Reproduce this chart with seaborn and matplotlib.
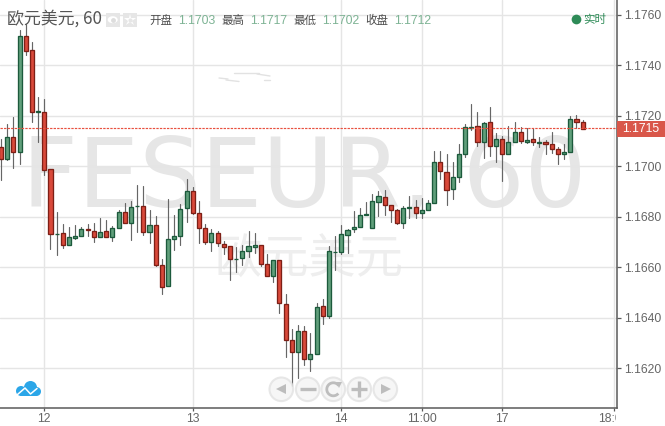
import matplotlib
matplotlib.use('Agg')
import matplotlib.pyplot as plt
from matplotlib.patches import Arc, Circle, Ellipse, Rectangle
from matplotlib.transforms import Bbox
import pandas as pd
import seaborn as sns

# bar number, counted from the first bar of the 12th
BAR_START = -7

OPENS = [1.17076, 1.17028, 1.17115, 1.17056, 1.17516, 1.17460, 1.17214, 1.17214,
         1.16988, 1.16730, 1.16735, 1.16687, 1.16715, 1.16723, 1.16751, 1.16743,
         1.16719, 1.16743, 1.16719, 1.16755, 1.16818, 1.16774, 1.16841, 1.16842,
         1.16739, 1.16767, 1.16608, 1.16525, 1.16711, 1.16723, 1.16834, 1.16901,
         1.16814, 1.16755, 1.16699, 1.16735, 1.16691, 1.16683, 1.16632, 1.16636,
         1.16663, 1.16679, 1.16687, 1.16612, 1.16564, 1.16628, 1.16453, 1.16311,
         1.16263, 1.16346, 1.16235, 1.16255, 1.16445, 1.16406, 1.16659, 1.16660,
         1.16727, 1.16751, 1.16759, 1.16806, 1.16755, 1.16858, 1.16877, 1.16846,
         1.16826, 1.16774, 1.16834, 1.16838, 1.16814, 1.16826, 1.16854, 1.17016,
         1.16977, 1.16909, 1.16957, 1.17048, 1.17151, 1.17159, 1.17095, 1.17175,
         1.17080, 1.17107, 1.17048, 1.17095, 1.17135, 1.17095, 1.17107, 1.17092,
         1.17095, 1.17088, 1.17068, 1.17048, 1.17056, 1.17187, 1.17175]
HIGHS = [1.17109, 1.17168, 1.17197, 1.17541, 1.17564, 1.17492, 1.17274, 1.17267,
         1.16988, 1.16819, 1.16772, 1.16759, 1.16768, 1.16759, 1.16772, 1.16776,
         1.16795, 1.16788, 1.16764, 1.16827, 1.16854, 1.16863, 1.16926, 1.16922,
         1.16827, 1.16803, 1.16632, 1.16871, 1.16807, 1.16851, 1.16950, 1.16919,
         1.16863, 1.16772, 1.16752, 1.16744, 1.16703, 1.16684, 1.16681, 1.16687,
         1.16744, 1.16735, 1.16687, 1.16652, 1.16628, 1.16628, 1.16493, 1.16356,
         1.16371, 1.16367, 1.16340, 1.16457, 1.16473, 1.16683, 1.16723, 1.16767,
         1.16751, 1.16823, 1.16835, 1.16859, 1.16891, 1.16901, 1.16905, 1.16846,
         1.16830, 1.16842, 1.16881, 1.16866, 1.16875, 1.16866, 1.17061, 1.17061,
         1.17049, 1.17017, 1.17088, 1.17167, 1.17247, 1.17216, 1.17175, 1.17235,
         1.17132, 1.17119, 1.17160, 1.17176, 1.17156, 1.17152, 1.17151, 1.17117,
         1.17103, 1.17136, 1.17076, 1.17088, 1.17199, 1.17204, 1.17184]
LOWS = [1.16946, 1.17023, 1.16995, 1.17011, 1.17440, 1.17177, 1.17098, 1.16967,
        1.16673, 1.16649, 1.16678, 1.16687, 1.16711, 1.16723, 1.16723, 1.16699,
        1.16719, 1.16719, 1.16705, 1.16755, 1.16774, 1.16709, 1.16739, 1.16727,
        1.16695, 1.16603, 1.16495, 1.16525, 1.16667, 1.16687, 1.16781, 1.16811,
        1.16695, 1.16691, 1.16663, 1.16684, 1.16654, 1.16549, 1.16580, 1.16608,
        1.16640, 1.16656, 1.16604, 1.16564, 1.16543, 1.16419, 1.16245, 1.16129,
        1.16160, 1.16212, 1.16188, 1.16255, 1.16374, 1.16398, 1.16588, 1.16652,
        1.16656, 1.16739, 1.16759, 1.16806, 1.16755, 1.16802, 1.16807, 1.16780,
        1.16770, 1.16755, 1.16794, 1.16794, 1.16794, 1.16826, 1.16854, 1.16949,
        1.16848, 1.16872, 1.16937, 1.17038, 1.17143, 1.17080, 1.17031, 1.17042,
        1.17017, 1.16943, 1.17048, 1.17095, 1.17092, 1.17092, 1.17084, 1.17078,
        1.17049, 1.17054, 1.17011, 1.17027, 1.17056, 1.17151, 1.17147]
CLOSES = [1.17028, 1.17115, 1.17056, 1.17516, 1.17456, 1.17214, 1.17218, 1.16985,
          1.16731, 1.16732, 1.16687, 1.16719, 1.16723, 1.16751, 1.16747, 1.16719,
          1.16739, 1.16719, 1.16755, 1.16818, 1.16774, 1.16838, 1.16843, 1.16739,
          1.16767, 1.16608, 1.16521, 1.16711, 1.16723, 1.16830, 1.16901, 1.16814,
          1.16755, 1.16699, 1.16735, 1.16695, 1.16679, 1.16632, 1.16634, 1.16663,
          1.16683, 1.16687, 1.16612, 1.16564, 1.16628, 1.16457, 1.16311, 1.16263,
          1.16346, 1.16235, 1.16255, 1.16442, 1.16406, 1.16663, 1.16661, 1.16731,
          1.16747, 1.16759, 1.16806, 1.16810, 1.16862, 1.16881, 1.16846, 1.16826,
          1.16774, 1.16834, 1.16838, 1.16814, 1.16826, 1.16854, 1.17016, 1.16981,
          1.16905, 1.16957, 1.17048, 1.17155, 1.17155, 1.17095, 1.17171, 1.17080,
          1.17107, 1.17048, 1.17095, 1.17135, 1.17099, 1.17103, 1.17095, 1.17095,
          1.17088, 1.17068, 1.17048, 1.17056, 1.17187, 1.17175, 1.17147]

PRICE_TICKS = [1.1620, 1.1640, 1.1660, 1.1680, 1.1700, 1.1720, 1.1740, 1.1760]
TIME_TICKS = [0, 24, 48, 61, 74, 92]
TIME_LABELS = ['12', '13', '14', '11:00', '17', '18:00']
LAST_PRICE = 1.1715

GREEN = '#609f7b'
GREEN_EDGE = '#1c5a3c'
RED = '#d9493a'
RED_EDGE = '#7d1f16'
GRID = '#e5e5e5'
AXIS = '#5a5a5a'
TEXT = '#666666'
LATIN = ['Liberation Sans', 'Noto Sans CJK SC', 'DejaVu Sans']
CJK = ['Noto Sans CJK SC', 'DejaVu Sans']

sns.set_theme(style='white')
plt.rcParams['font.family'] = LATIN

W, H = 665, 426
fig = plt.figure(figsize=(W / 100, H / 100), dpi=100, facecolor='white')


def pixel_axes(zorder):
    a = fig.add_axes([0, 0, 1, 1], zorder=zorder)
    a.set_xlim(0, W)
    a.set_ylim(H, 0)
    a.axis('off')
    return a


back = pixel_axes(0)
ax = fig.add_axes([0, (H - 408.3) / H, 616.7 / W, 408.3 / H], zorder=1)
ax.patch.set_alpha(0)
front = pixel_axes(2)

# big watermarks behind the chart
back.text(22.5, 207, 'FESEUR, 60', fontsize=70, color='#e6e6e6', family='DejaVu Sans',
          va='baseline', ha='left')
back.text(214, 261, '欧元美元', fontsize=34, color='#eeeeee', family=CJK,
          va='center', ha='left', fontweight='light')
# faint leftovers of the page behind the chart
for xs, ys in [([234, 259], [72.5, 72.5]), ([257, 270], [74, 76]), ([264, 270], [79.5, 79.5]),
               ([219, 228], [78, 79]), ([226, 239], [80, 81.5])]:
    back.plot(xs, ys, color='#e2e2e2', lw=1)

bars = pd.DataFrame({'bar': range(BAR_START, BAR_START + len(OPENS)),
                     'open': OPENS, 'high': HIGHS, 'low': LOWS, 'close': CLOSES})
bars['bottom'] = bars[['open', 'close']].min(axis=1)
bars['height'] = (bars['close'] - bars['open']).abs()
bars['up'] = bars['close'] > bars['open']

wicks = bars.melt(id_vars='bar', value_vars=['low', 'high'], value_name='price')
sns.lineplot(data=wicks, x='bar', y='price', units='bar', estimator=None, ax=ax,
             color='#666666', linewidth=0.85, legend=False, zorder=3)

for is_up, fill, edge in [(True, GREEN, GREEN_EDGE), (False, RED, RED_EDGE)]:
    part = bars[bars['up'] == is_up]
    sns.barplot(data=part, x='bar', y='height', bottom=part['bottom'].values, ax=ax,
                native_scale=True, width=0.66, color=fill, saturation=1,
                errorbar=None, edgecolor=edge, linewidth=0.95, zorder=4)

ax.axhline(LAST_PRICE, color='#e8503f', linewidth=0.85, linestyle=(0, (2, 1)), zorder=5)

ax.set_xlim(-7.16, 92.5)
ax.set_ylim(1.16041, 1.17659)
ax.set_xlabel('')
ax.set_ylabel('')
ax.set_xticks(TIME_TICKS)
ax.set_xticklabels(TIME_LABELS)
ax.set_yticks(PRICE_TICKS)
ax.set_yticklabels(['%.4f' % p for p in PRICE_TICKS])
ax.yaxis.tick_right()
ax.grid(True, color=GRID, linewidth=1.0)
ax.set_axisbelow(True)
ax.tick_params(axis='y', length=3, width=0.9, color=AXIS, labelcolor=TEXT,
               labelsize=8.7, pad=2, right=True)
ax.tick_params(axis='x', length=2, width=0.9, color=AXIS, labelcolor=TEXT,
               labelsize=8.7, pad=1.2, bottom=True)
for side in ['top', 'left']:
    ax.spines[side].set_visible(False)
for side in ['right', 'bottom']:
    ax.spines[side].set_color(AXIS)
    ax.spines[side].set_linewidth(1.1)

# the 18:00 label is cut off by the price axis
last_label = ax.get_xticklabels()[-1]
last_label.set_clip_on(True)
last_label.set_clip_box(Bbox([[0, 0], [615.5, H]]))

# header
front.text(7, 19, '欧元美元, 60', fontsize=12.2, color='#555555', family=CJK, va='center')
for left in [106, 123]:
    front.add_patch(Rectangle((left, 13), 13.5, 13.5, color='#e6e6e6', lw=0))
front.add_patch(Ellipse((112.7, 19.7), 10, 7, color='white', lw=0))
front.plot(112.7, 19.7, marker='o', ms=3.5, color='#dddddd', mew=0)
front.plot(129.7, 19.7, marker='*', ms=9, color='white', mew=0)
front.plot(129.7, 19.7, marker='o', ms=3, color='#e6e6e6', mew=0)

label_x = [149, 221, 293, 365]
label_names = ['开盘', '最高', '最低', '收盘']
label_values = ['1.1703', '1.1717', '1.1702', '1.1712']
for x, name, value in zip(label_x, label_names, label_values):
    front.text(x, 20.5, name, fontsize=8.3, color='#4d4d4d', family=CJK, va='center')
    front.text(x + 29, 20.5, value, fontsize=8.8, color='#7db394', family=LATIN, va='center')

front.plot(576, 19, marker='o', ms=7, color='#2e8b57', mew=0)
front.text(583, 19.5, '实时', fontsize=8.3, color='#2e8b57', family=CJK, va='center')

# last price tag
front.add_patch(Rectangle((617, 121), 48, 16, color='#d9574a', lw=0))
front.text(641, 129, '%.4f' % LAST_PRICE, fontsize=8.8, color='white', ha='center',
           va='center', family=LATIN)

# logo
LOGO = '#2ba6e8'
front.add_patch(Circle((30.5, 387.5), 6.5, color=LOGO, lw=0))
front.add_patch(Circle((21, 391), 5, color=LOGO, lw=0))
front.add_patch(Circle((36.5, 391.5), 4.5, color=LOGO, lw=0))
front.add_patch(Rectangle((21, 389), 16, 7, color=LOGO, lw=0))
front.plot([17.5, 25, 30.5, 37], [394.5, 388, 394, 388.5], color='white', lw=1.1)

# navigation buttons
NAV = '#bdbdbd'
for cx in [281.3, 307.7, 333.3, 359.3, 385.3]:
    front.add_patch(Circle((cx, 389.3), 11.8, facecolor='#f4f4f4', edgecolor='#e2e2e2',
                           lw=1.5, alpha=0.8))
front.plot(280.5, 389.3, marker='<', ms=7.5, color=NAV, mew=0)
front.plot(307.7, 389.3, marker='_', ms=11, color=NAV, mew=2.4)
front.add_patch(Arc((333.3, 389.3), 13, 13, theta1=40, theta2=325, color=NAV, lw=2))
front.plot(339, 384.5, marker='v', ms=5, color=NAV, mew=0)
front.plot(359.3, 389.3, marker='+', ms=11, color=NAV, mew=2.4)
front.plot(386, 389.3, marker='>', ms=7.5, color=NAV, mew=0)

for a in (back, front):
    a.set_xlim(0, W)
    a.set_ylim(H, 0)

fig.savefig('out.png', dpi=100)
